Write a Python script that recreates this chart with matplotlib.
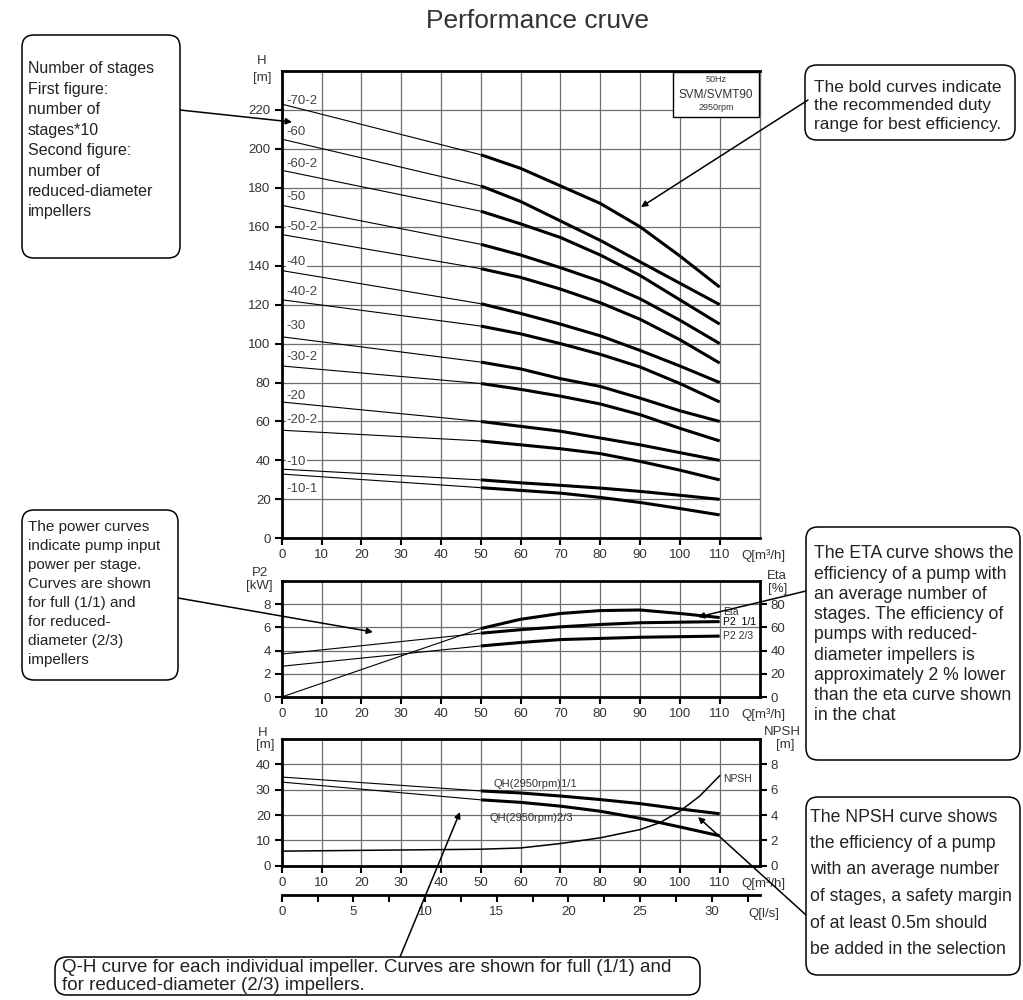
import matplotlib
matplotlib.use('Agg')
import matplotlib.pyplot as plt
from matplotlib.patches import FancyBboxPatch, Rectangle

plt.rcParams['font.family'] = ['Liberation Sans', 'DejaVu Sans']

W, H = 1023, 1000

# ---- data ----
# main Q-H chart, flow points in m3/h
q_main = [0, 50, 60, 70, 80, 90, 100, 110]
stage_labels = ['-70-2', '-60', '-60-2', '-50', '-50-2', '-40', '-40-2',
                '-30', '-30-2', '-20', '-20-2', '-10', '-10-1']
h_70_2 = [223, 197, 190, 181, 172, 160, 145, 129]
h_60 = [205, 181, 173, 163, 153, 142, 131, 120]
h_60_2 = [189, 168, 161.5, 154.5, 145.5, 135, 122.5, 110]
h_50 = [171, 151, 145.5, 139, 132, 123, 112, 100]
h_50_2 = [156, 138.5, 134, 128, 121, 112.5, 102, 90]
h_40 = [137.5, 120.5, 115.5, 110, 104, 96.5, 88.5, 80]
h_40_2 = [122.5, 109, 105, 100, 94.5, 88, 79.5, 70]
h_30 = [103.5, 90.5, 87, 82, 78, 72, 65.5, 60]
h_30_2 = [88.5, 79.5, 76.5, 73, 69, 63.5, 56.5, 50]
h_20 = [70, 60, 57.5, 55, 51.5, 48, 44, 40]
h_20_2 = [55.5, 50, 48, 46, 43.5, 39.5, 35, 30]
h_10 = [35.5, 30, 28.5, 27.2, 25.8, 24.1, 22.1, 20]
h_10_1 = [33, 26, 24.6, 23.2, 21, 18.4, 15.3, 12]
stage_curves = [h_70_2, h_60, h_60_2, h_50, h_50_2, h_40, h_40_2,
                h_30, h_30_2, h_20, h_20_2, h_10, h_10_1]

# power / efficiency chart
q_power = [0, 50, 60, 70, 80, 90, 100, 110]
p2_full = [3.7, 5.5, 5.8, 6.05, 6.25, 6.4, 6.45, 6.5]
p2_reduced = [2.65, 4.4, 4.7, 4.95, 5.05, 5.15, 5.2, 5.25]
eta = [0, 59, 67, 72, 74.5, 75, 72, 68.5]

# single impeller Q-H and NPSH chart
q_single = [0, 50, 60, 70, 80, 90, 100, 110]
qh_full = [35, 29.5, 28.7, 27.5, 26.1, 24.5, 22.4, 20.5]
qh_reduced = [33, 26, 25, 23.5, 21.5, 18.7, 15.3, 11.8]
q_npsh = [0, 50, 60, 70, 80, 90, 95, 100, 105, 110]
npsh = [1.15, 1.3, 1.4, 1.75, 2.2, 2.85, 3.4, 4.3, 5.5, 7.1]

q_ticks = [0, 10, 20, 30, 40, 50, 60, 70, 80, 90, 100, 110]
ls_ticks = [0, 5, 10, 15, 20, 25, 30]

# layout: label heights for the stage names
stage_label_y = [224.5, 208.5, 192, 175.5, 160, 142, 126.5, 109, 93, 73, 61, 39, 25.5]

GRID = '#6e6e6e'
TXT = '#333333'
TICK_SIZE = 9.5


def px_rect(left, top, right, bottom):
    return [left / W, 1 - bottom / H, (right - left) / W, (bottom - top) / H]


def style_axes(ax, ymax, yticks, right_thick=True):
    ax.set_xlim(0, 120)
    ax.set_ylim(0, ymax)
    ax.set_xticks(q_ticks)
    ax.set_yticks(yticks)
    ax.grid(True, color=GRID, lw=0.9)
    ax.set_axisbelow(True)
    for side in ['left', 'bottom', 'top']:
        ax.spines[side].set_linewidth(2)
    if right_thick:
        ax.spines['right'].set_linewidth(2)
    else:
        ax.spines['right'].set_linewidth(1)
        ax.spines['right'].set_color('#777777')
    ax.tick_params(direction='out', length=5, width=1.5, labelsize=TICK_SIZE,
                   labelcolor=TXT, pad=3)
    ax.annotate('Q[m³/h]', xy=(115.4, 0), xycoords=('data', 'axes fraction'),
                xytext=(0, -8), textcoords='offset points', ha='left', va='top',
                fontsize=TICK_SIZE, color=TXT)


def thin_bold(ax, q, h, thin=0.8, bold=2.2):
    ax.plot(q[:2], h[:2], color='black', lw=thin, solid_capstyle='butt')
    ax.plot(q[1:], h[1:], color='black', lw=bold, solid_capstyle='butt')


fig = plt.figure(figsize=(W / 100, H / 100), dpi=100)

# ---- main chart ----
ax1 = fig.add_axes(px_rect(281.7, 71, 759.5, 538.3))
style_axes(ax1, 240, list(range(0, 221, 20)), right_thick=False)
for lab, curve, ly in zip(stage_labels, stage_curves, stage_label_y):
    thin_bold(ax1, q_main, curve)
    ax1.text(1.2, ly, lab, fontsize=9.5, color='#444444', va='center', ha='left',
             bbox=dict(facecolor='white', edgecolor='none', pad=0.6), zorder=1.5)

# ---- power and efficiency chart ----
ax2 = fig.add_axes(px_rect(281.7, 581, 759.5, 697))
style_axes(ax2, 10, [0, 2, 4, 6, 8])
thin_bold(ax2, q_power, p2_full)
thin_bold(ax2, q_power, p2_reduced)
ax2b = ax2.twinx()
ax2b.set_ylim(0, 100)
ax2b.set_yticks([0, 20, 40, 60, 80])
ax2b.tick_params(direction='out', length=5, width=1.5, labelsize=TICK_SIZE,
                 labelcolor=TXT, pad=3)
for s in ax2b.spines.values():
    s.set_visible(False)
thin_bold(ax2b, q_power, eta)

# ---- single impeller chart ----
ax3 = fig.add_axes(px_rect(281.7, 739, 759.5, 865.7))
style_axes(ax3, 50, [0, 10, 20, 30, 40])
thin_bold(ax3, q_single, qh_full)
thin_bold(ax3, q_single, qh_reduced)
ax3b = ax3.twinx()
ax3b.set_ylim(0, 10)
ax3b.set_yticks([0, 2, 4, 6, 8])
ax3b.tick_params(direction='out', length=5, width=1.5, labelsize=TICK_SIZE,
                 labelcolor=TXT, pad=3)
for s in ax3b.spines.values():
    s.set_visible(False)
ax3b.plot(q_npsh, npsh, color='black', lw=1.1)

# ---- l/s scale ----
ax4 = fig.add_axes(px_rect(281.7, 880, 759.5, 895))
ax4.set_xlim(0, 120 / 3.6)
ax4.set_ylim(0, 1)
ax4.patch.set_alpha(0)
for side in ['left', 'right', 'top']:
    ax4.spines[side].set_visible(False)
ax4.spines['bottom'].set_linewidth(2)
ax4.set_yticks([])
ax4.set_xticks(ls_ticks)
ax4.set_xticks([t + 2.5 for t in ls_ticks], minor=True)
ax4.tick_params(which='both', direction='out', length=5, width=1.5,
                labelsize=TICK_SIZE, labelcolor=TXT, pad=3)

# ---- overlay for boxes, notes and arrows, in pixel coordinates ----
ov = fig.add_axes([0, 0, 1, 1])
ov.set_xlim(0, W)
ov.set_ylim(H, 0)
ov.axis('off')
ov.patch.set_alpha(0)


def note_box(x0, y0, x1, y1, lines, tx, ty, step, size=11):
    ov.add_patch(FancyBboxPatch((x0, y0), x1 - x0, y1 - y0,
                                boxstyle='round,pad=0,rounding_size=12',
                                facecolor='white', edgecolor='black', lw=1.1))
    for i, line in enumerate(lines):
        ov.text(tx, ty + i * step, line, fontsize=size, color='#222222',
                ha='left', va='center')


def arrow(start, tip):
    ov.annotate('', xy=tip, xytext=start,
                arrowprops=dict(arrowstyle='-|>', color='black', lw=1.1,
                                mutation_scale=9, shrinkA=0, shrinkB=0))


ov.text(537, 21, 'Performance cruve', fontsize=19, color=TXT, ha='center',
        va='center')

# axis unit labels
ov.text(262, 61, 'H', fontsize=TICK_SIZE, color=TXT, ha='center', va='center')
ov.text(262, 78, '[m]', fontsize=TICK_SIZE, color=TXT, ha='center', va='center')
ov.text(260, 573, 'P2', fontsize=TICK_SIZE, color=TXT, ha='center', va='center')
ov.text(259, 586, '[kW]', fontsize=TICK_SIZE, color=TXT, ha='center', va='center')
ov.text(777, 576, 'Eta', fontsize=TICK_SIZE, color=TXT, ha='center', va='center')
ov.text(778, 589, '[%]', fontsize=TICK_SIZE, color=TXT, ha='center', va='center')
ov.text(263, 733, 'H', fontsize=TICK_SIZE, color=TXT, ha='center', va='center')
ov.text(265, 745, '[m]', fontsize=TICK_SIZE, color=TXT, ha='center', va='center')
ov.text(782, 732, 'NPSH', fontsize=TICK_SIZE, color=TXT, ha='center', va='center')
ov.text(785, 745, '[m]', fontsize=TICK_SIZE, color=TXT, ha='center', va='center')
ov.text(764, 914, 'Q[l/s]', fontsize=TICK_SIZE, color=TXT, ha='center', va='center')

# curve names
ov.text(723, 612, 'Eta', fontsize=7.5, color=TXT, va='center')
ov.text(723, 622, 'P2  1/1', fontsize=7.5, color='black', va='center')
ov.text(723, 636, 'P2 2/3', fontsize=7.5, color=TXT, va='center')
ov.text(494, 784, 'QH(2950rpm)1/1', fontsize=8, color=TXT, va='center')
ov.text(489, 818, 'QH(2950rpm)2/3', fontsize=8, color=TXT, va='center')
ov.text(723, 779, 'NPSH', fontsize=7.5, color=TXT, va='center')

# model box
ov.add_patch(Rectangle((672.7, 71.7), 86.6, 45.6, facecolor='white',
                       edgecolor='black', lw=1))
ov.text(716, 80, '50Hz', fontsize=6.5, color=TXT, ha='center', va='center')
ov.text(716, 95, 'SVM/SVMT90', fontsize=8.5, color=TXT, ha='center', va='center')
ov.text(716, 108, '2950rpm', fontsize=6.5, color=TXT, ha='center', va='center')

# notes
note_box(22, 35, 180, 258,
         ['Number of stages', 'First figure:', 'number of', 'stages*10',
          'Second figure:', 'number of', 'reduced-diameter', 'impellers'],
         28, 69, 20.4, size=11.5)
arrow((180, 110), (292, 122))

note_box(805, 65, 1015, 140,
         ['The bold curves indicate', 'the recommended duty',
          'range for best efficiency.'],
         814, 87, 18.5, size=12.4)
arrow((808, 100), (641, 207))

note_box(22, 510, 178, 680,
         ['The power curves', 'indicate pump input', 'power per stage.',
          'Curves are shown', 'for full (1/1) and', 'for reduced-',
          'diameter (2/3)', 'impellers'],
         28, 527, 19)
arrow((178, 598), (373, 632))

note_box(806, 527, 1020, 760,
         ['The ETA curve shows the', 'efficiency of a pump with',
          'an average number of', 'stages. The efficiency of',
          'pumps with reduced-', 'diameter impellers is',
          'approximately 2 % lower', 'than the eta curve shown',
          'in the chat'],
         814, 554, 20.2, size=12.7)
arrow((806, 591), (698, 617))

note_box(806, 797, 1020, 975,
         ['The NPSH curve shows', 'the efficiency of a pump',
          'with an average number', 'of stages, a safety margin',
          'of at least 0.5m should', 'be added in the selection'],
         810, 817, 26.5, size=12.7)
arrow((806, 915), (698, 817))

note_box(55, 957, 700, 995,
         ['Q-H curve for each individual impeller. Curves are shown for full (1/1) and',
          'for reduced-diameter (2/3) impellers.'],
         62, 968, 17, size=13.5)
arrow((400, 957), (460, 812))

plt.savefig('out.png', dpi=100)
plt.close()
